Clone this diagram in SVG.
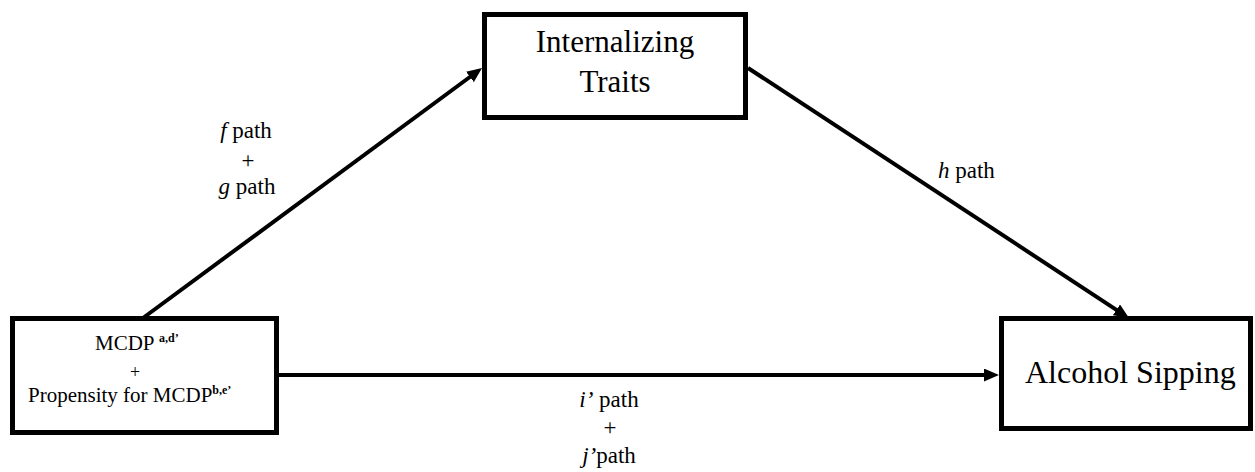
<svg xmlns="http://www.w3.org/2000/svg" width="1255" height="472" viewBox="0 0 1255 472">
<style>
.box{fill:#fff;stroke:#000;stroke-width:5}
.t{font-family:"Liberation Serif","Times New Roman",serif;fill:#000}
.conn{stroke:#000;stroke-width:4;fill:none}
.sup{font-size:12px;font-weight:bold}
</style>
<defs>
<marker id="ah" markerUnits="userSpaceOnUse" markerWidth="15" markerHeight="13" refX="10" refY="6.5" orient="auto">
<path d="M0,0 L15,6.5 L0,13 z" fill="#000"/>
</marker>
</defs>
<g id="connectors">
<line class="conn" x1="143" y1="318" x2="478" y2="71" marker-end="url(#ah)"/>
<line class="conn" x1="748" y1="68" x2="1124.8" y2="315.3" marker-end="url(#ah)"/>
<line class="conn" x1="279" y1="375" x2="994" y2="375" marker-end="url(#ah)"/>
</g>
<g id="node-mcdp">
<rect class="box" x="12.5" y="318.5" width="264" height="114"/>
<text class="t" x="95" y="350" font-size="21">MCDP <tspan class="sup" dy="-8">a,d’</tspan></text>
<text class="t" x="135" y="378" font-size="18" text-anchor="middle">+</text>
<text class="t" x="28" y="402" font-size="21">Propensity for MCDP<tspan class="sup" dy="-8">b,e’</tspan></text>
</g>
<g id="node-internalizing">
<rect class="box" x="484.5" y="14.5" width="261" height="103"/>
<text class="t" x="615" y="52" font-size="31" text-anchor="middle">Internalizing</text>
<text class="t" x="615" y="92" font-size="31" text-anchor="middle">Traits</text>
</g>
<g id="node-alcohol">
<rect class="box" x="1001.5" y="318.5" width="249" height="110"/>
<text class="t" x="1025" y="383" font-size="32">Alcohol Sipping</text>
</g>
<g id="labels">
<text class="t" x="246" y="138" font-size="23" text-anchor="middle"><tspan font-style="italic">f</tspan> path</text>
<text class="t" x="248" y="168" font-size="23" text-anchor="middle">+</text>
<text class="t" x="247" y="194" font-size="23" text-anchor="middle"><tspan font-style="italic">g</tspan> path</text>
<text class="t" x="938" y="178" font-size="23"><tspan font-style="italic">h</tspan> path</text>
<text class="t" x="609" y="407" font-size="23" text-anchor="middle"><tspan font-style="italic">i’</tspan> path</text>
<text class="t" x="610" y="435" font-size="23" text-anchor="middle">+</text>
<text class="t" x="609" y="463" font-size="23" text-anchor="middle"><tspan font-style="italic">j’</tspan>path</text>
</g>
</svg>
